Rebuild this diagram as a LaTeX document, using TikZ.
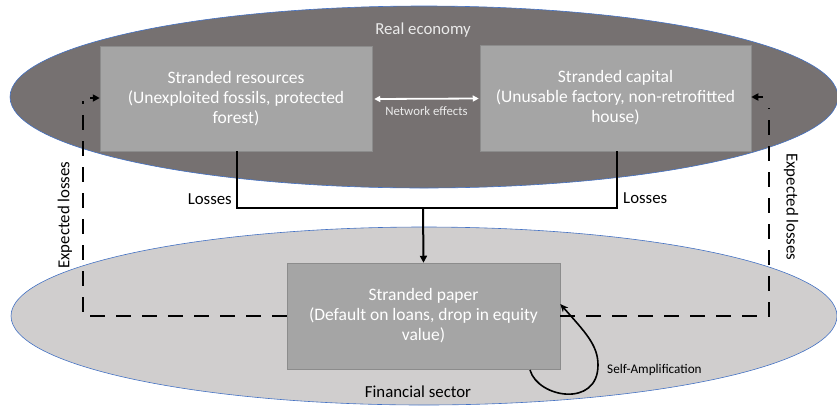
\documentclass[tikz,border=0pt]{standalone}
\usepackage{fontspec}
\setmainfont{Carlito}
\usetikzlibrary{shapes.geometric,arrows.meta}
\definecolor{realfill}{HTML}{767171}
\definecolor{finfill}{HTML}{D0CECE}
\definecolor{boxfill}{HTML}{A5A5A5}
\definecolor{edgeblue}{HTML}{4472C4}
\tikzset{
  sector/.style={ellipse, draw=edgeblue, line width=0.6pt, inner sep=0pt},
  strandbox/.style={rectangle, fill=boxfill, draw=boxfill!85!black, line width=0.5pt,
    text=white, align=center, font=\fontsize{17.5}{20}\selectfont, inner sep=0pt},
  solidline/.style={draw=black, line width=2pt},
  dashline/.style={draw=black, line width=2.4pt, dash pattern=on 15pt off 11pt},
  tip/.style={-{Triangle[length=7pt,width=7pt]}},
  lbl/.style={font=\fontsize{16.8}{20}\selectfont, inner sep=0pt}
}
\begin{document}
\begin{tikzpicture}[x=1pt,y=-1pt]
\useasboundingbox (0,0) rectangle (837,405);
\node[sector, fill=finfill, minimum width=826pt, minimum height=178pt] (fin) at (424,316) {};
\node[sector, fill=realfill, minimum width=828pt, minimum height=182pt] (real) at (424,97) {};
\node[lbl, text=white!92!black] (realtxt) at (423,30) {Real economy};
\node[lbl] (fintxt) at (418,392) {Financial sector};

\node[strandbox, minimum width=272pt, minimum height=105pt] (res) at (236,98.5) {Stranded resources\\(Unexploited fossils, protected\\forest)};
\node[strandbox, minimum width=271pt, minimum height=106pt] (cap) at (615.5,98) {Stranded capital\\(Unusable factory, non-retrofitted\\house)};
\node[strandbox, minimum width=273pt, minimum height=106pt] (pap) at (423.5,316) {Stranded paper\\(Default on loans, drop in equity\\value)};

% network effects
\draw[draw=white, line width=1.8pt, {Triangle[length=6pt,width=6pt]}-{Triangle[length=6pt,width=6pt]}] ([xshift=2pt,yshift=-0.5pt]res.east) -- ([xshift=-1pt,yshift=-0.5pt]cap.west) node[midway, below=7pt, text=white!92!black, font=\fontsize{12.8}{14}\selectfont, inner sep=0pt] (nettxt) {Network effects};

% losses
\coordinate (lj) at (237,208);
\coordinate (rj) at (617,208);
\coordinate (mj) at (423,208);
\draw[solidline] (res.south -| lj) -- (lj) -- (rj) -- (cap.south -| rj);
\draw[solidline, tip] (mj) -- (pap.north);
\node[lbl, anchor=east] (lossl) at (232,199) {Losses};
\node[lbl, anchor=west] (lossr) at (623,198) {Losses};

% expected losses
\coordinate (dl1) at (83,316);
\coordinate (dl2) at (83,101);
\coordinate (dr1) at (769,316);
\coordinate (dr2) at (769,108);
\coordinate (al) at (90,98);
\coordinate (ar) at (763,97);
\draw[dashline] (pap.west) -- (dl1) -- (dl2);
\draw[solidline, tip] (al) -- (res.west |- al);
\draw[dashline] (pap.east) -- (dr1) -- (dr2);
\draw[solidline, tip] (ar) -- (cap.east |- ar);
\node[lbl, rotate=90] (expl) at (65,215) {Expected losses};
\node[lbl, rotate=-90] (expr) at (791,207) {Expected losses};

% self amplification
\coordinate (sa1) at (530,370);
\coordinate (sa2) at (598,365);
\draw[line width=1.6pt, -{Stealth[length=8pt,width=7pt]}] (sa1) .. controls (538,398) and (598,408) .. (sa2) .. controls (598,345) and (585,332) .. ([yshift=12pt]pap.east);
\node[font=\fontsize{13.2}{15}\selectfont, inner sep=0pt, anchor=west] (satxt) at (607,370) {Self-Amplification};
\end{tikzpicture}
\end{document}
